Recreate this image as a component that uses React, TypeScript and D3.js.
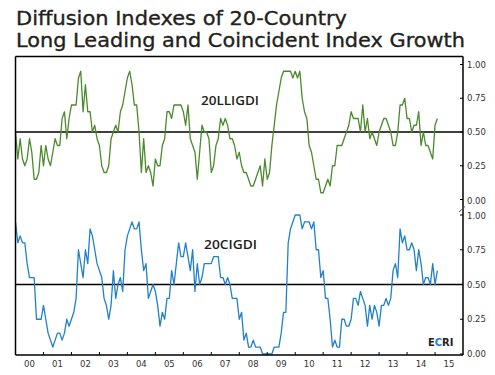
import React from "react";
import * as d3 from "d3";

const yearLabels = ["00","01","02","03","04","05","06","07","08","09","10","11","12","13","14","15"];
const yTicks = [0, 0.25, 0.5, 0.75, 1.0];

// 20-country long leading index growth diffusion index (monthly, Jan 2000 onward)
const lliValues = [
  0.50,0.30,0.45,0.30,0.25,0.30,0.45,0.35,0.15,0.15,
  0.20,0.40,0.25,0.40,0.30,0.25,0.35,0.45,0.40,0.40,
  0.60,0.65,0.45,0.60,0.70,0.70,0.70,0.90,0.95,0.65,
  0.85,0.65,0.65,0.50,0.55,0.45,0.40,0.25,0.20,0.20,
  0.25,0.45,0.50,0.55,0.50,0.65,0.70,0.80,0.90,0.95,
  0.85,0.70,0.70,0.50,0.20,0.45,0.20,0.25,0.20,0.10,
  0.30,0.25,0.25,0.40,0.45,0.65,0.65,0.60,0.70,0.70,
  0.70,0.70,0.65,0.55,0.70,0.45,0.40,0.35,0.15,0.35,
  0.55,0.50,0.50,0.45,0.20,0.25,0.40,0.45,0.60,0.55,
  0.60,0.55,0.45,0.45,0.40,0.30,0.35,0.25,0.20,0.20,
  0.15,
  0.10,0.10,0.15,0.20,0.25,0.10,0.30,0.15,0.20,0.40,
  0.55,0.70,0.80,0.90,0.95,0.95,0.95,0.95,0.90,0.95,
  0.90,0.95,0.75,0.65,0.60,0.40,0.35,0.25,0.15,0.15,
  0.05,0.05,0.10,0.15,0.10,0.25,0.25,0.40,0.40,0.40,
  0.45,0.50,0.55,0.65,0.60,0.60,0.60,0.50,0.70,0.50,
  0.60,0.45,0.50,0.45,0.40,0.50,0.55,0.60,0.60,0.55,
  0.50,0.40,0.40,0.50,0.70,0.70,0.75,0.60,0.60,0.50,
  0.55,0.55,0.65,0.40,0.50,0.40,0.40,0.35,0.30,0.55,
  0.60,
];

// 20-country coincident index growth diffusion index (monthly, Jan 2000 onward)
const ciValues = [
  0.95,0.80,0.85,0.80,0.80,0.65,0.55,0.55,0.55,0.25,
  0.25,0.25,0.35,0.25,0.15,0.10,0.05,0.10,0.15,0.15,
  0.10,0.15,0.25,0.20,0.25,0.30,0.40,0.75,0.65,0.55,
  0.75,0.65,0.90,0.85,0.75,0.65,0.60,0.55,0.40,0.35,
  0.25,0.35,0.60,0.40,0.50,0.55,0.45,0.75,0.85,0.90,
  0.95,0.90,0.90,0.95,0.75,0.60,0.65,0.40,0.45,0.50,
  0.45,0.35,0.20,0.30,0.25,0.40,0.40,0.60,0.50,0.65,
  0.80,0.70,0.70,0.80,0.70,0.60,0.75,0.45,0.65,0.50,
  0.55,0.65,0.65,0.65,0.65,0.70,0.70,0.70,0.55,0.55,
  0.50,0.55,0.50,0.40,0.40,0.40,0.25,0.30,0.10,0.15,
  0.05,
  0.05,0.10,0.05,0.05,0.05,0.00,0.00,0.00,0.00,0.00,
  0.05,0.05,0.05,0.15,0.30,0.30,0.80,0.90,0.95,1.00,
  1.00,1.00,0.90,0.95,0.95,0.95,0.90,0.95,0.75,0.75,
  0.55,0.60,0.40,0.40,0.25,0.05,0.10,0.05,0.05,0.25,
  0.25,0.20,0.20,0.25,0.40,0.40,0.35,0.45,0.40,0.35,
  0.20,0.35,0.25,0.35,0.30,0.20,0.35,0.35,0.40,0.35,
  0.40,0.60,0.65,0.55,0.90,0.80,0.85,0.75,0.75,0.80,
  0.75,0.60,0.75,0.65,0.50,0.55,0.55,0.50,0.65,0.50,
  0.60,
];

const GREEN = "#4a8a2c";
const BLUE = "#2180c9";
const TEXT = "#231f20";

export default function App() {
  const left = 15.5, right = 463, top = 56.5, bottom = 355;
  const x = d3.scaleLinear().domain([0, 192]).range([left, right]);
  const yTop = d3.scaleLinear().domain([0, 1]).range([199.5, 64.5]);
  const yBot = d3.scaleLinear().domain([0, 1]).range([354, 215]);

  const lineTop = d3.line<number>().x((_, i) => x(i)).y((d) => yTop(d));
  const lineBot = d3.line<number>().x((_, i) => x(i)).y((d) => yBot(d));

  const yearStarts = d3.range(1, yearLabels.length).map((k) => k * 12);

  return (
    <svg width={495} height={375} style={{ position: "fixed", left: 0, top: 0, background: "#fff" }}>
      <rect x={0} y={0} width={495} height={375} fill="#fff" />
      <text x={16} y={25} fontFamily="DejaVu Sans" fontSize={19.5} fill={TEXT} stroke={TEXT} strokeWidth={0.35} textLength={331} lengthAdjust="spacingAndGlyphs">
        Diffusion Indexes of 20-Country
      </text>
      <text x={16} y={46.5} fontFamily="DejaVu Sans" fontSize={19.5} fill={TEXT} stroke={TEXT} strokeWidth={0.35} textLength={449} lengthAdjust="spacingAndGlyphs">
        Long Leading and Coincident Index Growth
      </text>

      {/* reference lines at 0.5 */}
      <line x1={left} x2={right} y1={yTop(0.5)} y2={yTop(0.5)} stroke="#000" strokeWidth={1.5} />
      <line x1={left} x2={right} y1={yBot(0.5)} y2={yBot(0.5)} stroke="#000" strokeWidth={1.5} />

      <path d={lineTop(lliValues) ?? ""} fill="none" stroke={GREEN} strokeWidth={1.3} strokeLinejoin="round" />
      <path d={lineBot(ciValues) ?? ""} fill="none" stroke={BLUE} strokeWidth={1.3} strokeLinejoin="round" />

      {/* frame */}
      <line x1={left} x2={right} y1={top} y2={top} stroke="#000" strokeWidth={1.5} />
      <line x1={left} x2={right} y1={bottom} y2={bottom} stroke="#000" strokeWidth={1.5} />
      <line x1={left} x2={left} y1={top} y2={bottom} stroke="#000" strokeWidth={1.5} />
      <line x1={right} x2={right} y1={top} y2={bottom} stroke="#000" strokeWidth={1.5} />

      {/* x ticks and labels */}
      {yearStarts.map((m) => (
        <line key={"xt" + m} x1={x(m)} x2={x(m)} y1={bottom} y2={bottom - 3} stroke="#000" strokeWidth={1} />
      ))}
      {yearLabels.map((lab, k) => (
        <text key={"xl" + lab} x={x(k * 12 + 6)} y={367} textAnchor="middle" fontFamily="DejaVu Sans" fontSize={8.5} fill="#333">
          {lab}
        </text>
      ))}

      {/* right axis ticks and labels */}
      {yTicks.map((t) => (
        <g key={"yt" + t}>
          <line x1={right - 3} x2={right} y1={yTop(t)} y2={yTop(t)} stroke="#000" strokeWidth={1} />
          <text x={467} y={yTop(t) + (t === 0 ? 4.5 : 3)} fontFamily="DejaVu Sans" fontSize={8.5} fill="#333">
            {t.toFixed(2)}
          </text>
          <line x1={right - 3} x2={right} y1={yBot(t)} y2={yBot(t)} stroke="#000" strokeWidth={1} />
          <text x={467} y={yBot(t) + (t === 1 ? 4 : 3)} fontFamily="DejaVu Sans" fontSize={8.5} fill="#333">
            {t.toFixed(2)}
          </text>
        </g>
      ))}
      {/* axis break mark */}
      <line x1={459} x2={465} y1={212} y2={206.5} stroke="#555" strokeWidth={1} />

      {/* series labels */}
      <text x={201} y={105} fontFamily="Open Sans" fontWeight={600} fontSize={12.5} fill={TEXT} textLength={58} lengthAdjust="spacingAndGlyphs">
        20LLIGDI
      </text>
      <text x={204} y={248.5} fontFamily="Open Sans" fontWeight={600} fontSize={12.5} fill={TEXT} textLength={53} lengthAdjust="spacingAndGlyphs">
        20CIGDI
      </text>

      {/* ECRI logo text */}
      <text x={428} y={346} fontFamily="DejaVu Sans" fontWeight="bold" fontSize={11} textLength={25.5} lengthAdjust="spacingAndGlyphs">
        <tspan fill={TEXT}>E</tspan>
        <tspan fill={BLUE}>C</tspan>
        <tspan fill={TEXT}>RI</tspan>
      </text>
    </svg>
  );
}
